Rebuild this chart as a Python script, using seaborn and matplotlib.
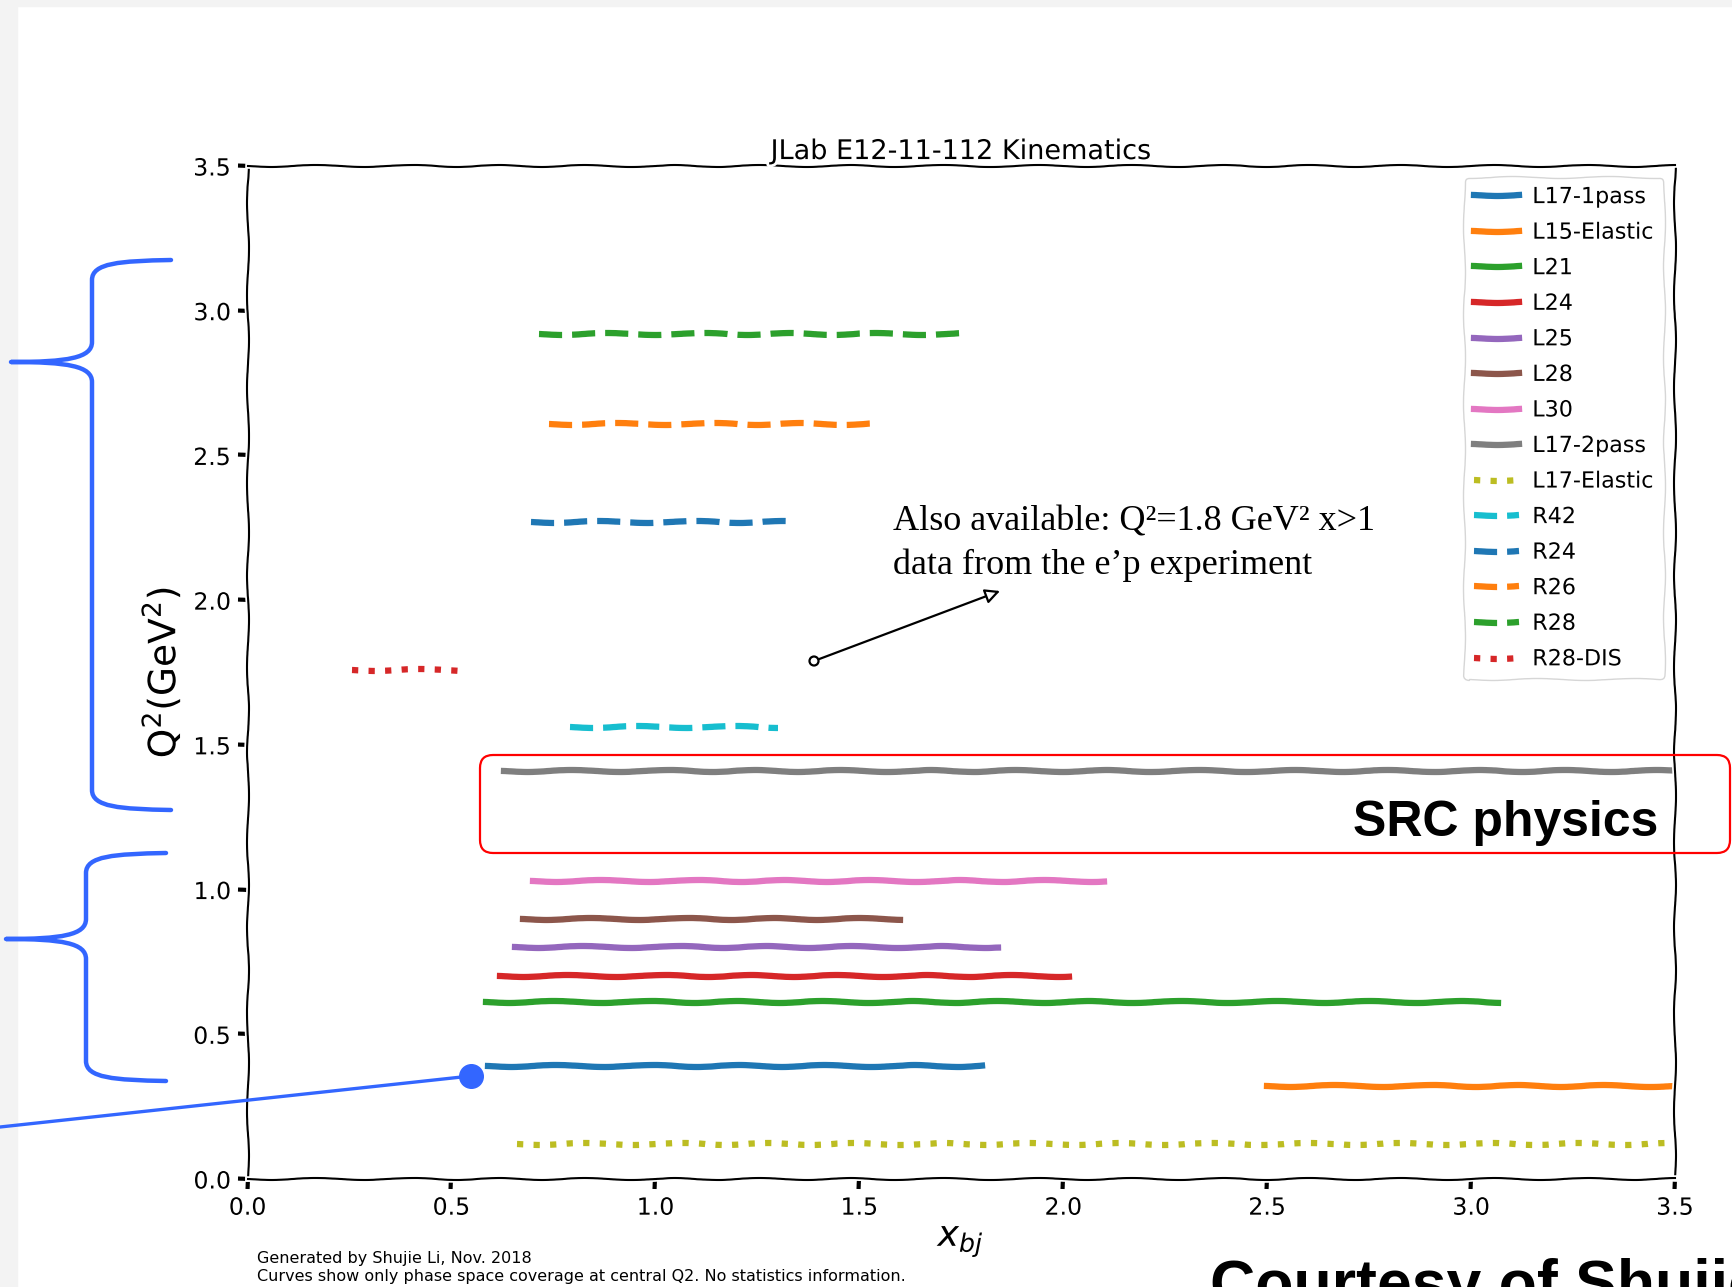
import numpy as np
import pandas as pd
import matplotlib
matplotlib.use('Agg')
import matplotlib.pyplot as plt
import seaborn as sns
from matplotlib.path import Path
from matplotlib.patches import PathPatch, FancyBboxPatch, FancyArrowPatch, Rectangle, Circle
from matplotlib.lines import Line2D
from matplotlib.transforms import Affine2D

# Runs of JLab E12-11-112 (flat lines at central Q2)
runs = ['L17-1pass', 'L15-Elastic', 'L21', 'L24', 'L25', 'L28', 'L30', 'L17-2pass',
        'L17-Elastic', 'R42', 'R24', 'R26', 'R28', 'R28-DIS']
x_start = [0.59, 2.50, 0.585, 0.62, 0.655, 0.675, 0.70, 0.63, 0.66, 0.79, 0.695, 0.74, 0.715, 0.255]
x_end = [1.80, 3.50, 3.065, 2.015, 1.84, 1.60, 2.10, 3.50, 3.50, 1.30, 1.325, 1.545, 1.77, 0.515]
q2_central = [0.39, 0.32, 0.61, 0.70, 0.80, 0.90, 1.03, 1.41, 0.12, 1.56, 2.27, 2.61, 2.92, 1.76]

ticks = [0.0, 0.5, 1.0, 1.5, 2.0, 2.5, 3.0, 3.5]

W, H = 1733, 1287

# xkcd look of the original plot
plt.xkcd()
plt.rcParams['font.family'] = ['DejaVu Sans']

fig = plt.figure(figsize=(W / 100, H / 100), dpi=100)
fig.patch.set_facecolor('white')
ax = fig.add_axes([247.5 / W, 1 - 1179 / H, (1675 - 247.5) / W, (1179 - 166) / H])

palette = sns.color_palette('tab10', 10)
dotted = ['L17-Elastic', 'R28-DIS']
dashed = ['R42', 'R24', 'R26', 'R28']

for i, run in enumerate(runs):
    ls = ':' if run in dotted else ('--' if run in dashed else '-')
    sns.lineplot(x=[x_start[i], x_end[i]], y=[q2_central[i], q2_central[i]], ax=ax,
                 color=palette[i % 10], linestyle=ls, linewidth=4.5, label=run)

ax.legend(loc='upper right', fontsize=16, handlelength=2.0, labelspacing=0.7,
          borderpad=0.45, handletextpad=0.6)

ax.set_xlim(0, 3.5)
ax.set_ylim(0, 3.5)
ax.set_xticks(ticks)
ax.set_yticks(ticks)
ax.tick_params(labelsize=17, length=7, width=3, pad=5)
ax.set_title('JLab E12-11-112 Kinematics', fontsize=19.5, pad=5)
ax.set_xlabel('$x_{bj}$', fontsize=26, labelpad=3)
ax.set_ylabel('Q$^2$(GeV$^2$)', fontsize=27, labelpad=7)

# slide overlays, drawn without the sketch effect
plt.rcParams['path.sketch'] = None
plt.rcParams['path.effects'] = []

px = Affine2D().scale(1, -1).translate(0, H).scale(1 / W, 1 / H) + fig.transFigure

fig.add_artist(Rectangle((0, 0), 17, H, transform=px, color='#f3f3f3', zorder=-10))
fig.add_artist(Rectangle((0, 0), W, 6, transform=px, color='#f3f3f3', zorder=-10))

blue = '#3366ff'


def brace(xe, yt, yb, xs, xt, ym, r=20):
    verts = [(xe, yt), (xs + 0.35 * (xe - xs), yt + 1), (xs, yt + 3), (xs, yt + r),
             (xs, ym - r),
             (xs, ym - 4), (xs - 0.3 * (xs - xt), ym), (xt, ym),
             (xs - 0.3 * (xs - xt), ym), (xs, ym + 4), (xs, ym + r),
             (xs, yb - r),
             (xs, yb - 3), (xs + 0.35 * (xe - xs), yb - 1), (xe, yb)]
    codes = [Path.MOVETO] + [Path.CURVE4] * 3 + [Path.LINETO] + [Path.CURVE4] * 6 + \
            [Path.LINETO] + [Path.CURVE4] * 3
    p = PathPatch(Path(verts, codes), fill=False, edgecolor=blue, linewidth=3.2,
                  transform=px, capstyle='round', joinstyle='round')
    fig.add_artist(p)


brace(171, 260, 810, 92, 11, 362)
brace(166, 853, 1081, 86, 6, 939)

fig.add_artist(Line2D([0, 471], [1127, 1076], transform=px, color=blue, linewidth=2.4))
fig.add_artist(Line2D([471], [1076], transform=px, color=blue, marker='o', markersize=17,
                      linestyle='none'))

fig.add_artist(FancyBboxPatch((480, 755), 1250, 98, boxstyle='round,pad=0,rounding_size=13',
                              transform=px, fill=False, edgecolor='#ff0000', linewidth=1.6))
fig.text(1658, 823, 'SRC physics', transform=px, ha='right', va='center', fontsize=36,
         fontweight='bold', family='Liberation Sans')

fig.text(893, 530, 'Also available: Q²=1.8 GeV² x>1', transform=px, ha='left',
         va='baseline', fontsize=26, family='Liberation Serif')
fig.text(893, 574, 'data from the e’p experiment', transform=px, ha='left',
         va='baseline', fontsize=26, family='Liberation Serif')
fig.add_artist(FancyArrowPatch((814, 661), (1000, 591), transform=px, arrowstyle='-|>',
                               mutation_scale=22, facecolor='white', edgecolor='black',
                               linewidth=1.6, shrinkA=4, shrinkB=0))
fig.add_artist(Circle((814, 661), 4.5, transform=px, facecolor='white', edgecolor='black',
                      linewidth=1.6))

fig.text(257, 1258, 'Generated by Shujie Li, Nov. 2018', transform=px, ha='left',
         va='center', fontsize=11.5)
fig.text(257, 1276, 'Curves show only phase space coverage at central Q2. No statistics information.',
         transform=px, ha='left', va='center', fontsize=11.5)

# slide credit, running off the bottom right of the slide as in the source
fig.text(1210, 1258, 'Courtesy of Shujie Li', transform=px, ha='left', va='top',
         fontsize=45, fontweight='bold', family='Liberation Sans')

fig.savefig('out.png', dpi=100)
